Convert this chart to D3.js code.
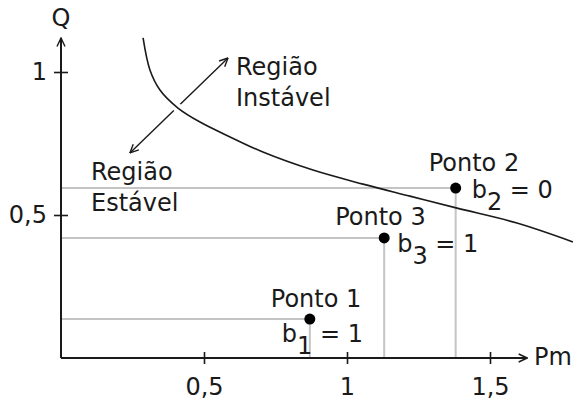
<!DOCTYPE html>
<html>
<head>
<meta charset="utf-8">
<script src="https://cdn.jsdelivr.net/npm/d3@7"></script>
<style>
  html, body { margin: 0; padding: 0; background: #fff; }
  svg { display: block; }
  text { font-family: "DejaVu Sans", sans-serif; fill: #1a1a1a; }
</style>
</head>
<body>
<svg id="chart" width="576" height="403"></svg>
<script>
// Stability limit curve Q(Pm)
const curvePm = [0.287, 0.311, 0.346, 0.409, 0.486, 0.591, 0.706, 0.881, 1.056, 1.220, 1.385, 1.594, 1.790];
const curveQ  = [1.119, 1.007, 0.937, 0.874, 0.825, 0.773, 0.720, 0.657, 0.608, 0.566, 0.524, 0.472, 0.406];

// Operating points
const pointNames = ["Ponto 1", "Ponto 2", "Ponto 3"];
const pointSub   = ["1", "2", "3"];
const pointPm    = [0.87, 1.38, 1.13];
const pointQ     = [0.136, 0.594, 0.42];
const pointB     = [1, 0, 1];

// Axis ticks
const xTicks = [0.5, 1, 1.5];
const yTicks = [0.5, 1];

const svg = d3.select("#chart");
const x = d3.scaleLinear().domain([0, 1.5]).range([61, 490]);
const y = d3.scaleLinear().domain([0, 1]).range([358, 72]);
const fmt = d3.formatLocale({decimal: ",", thousands: ".", grouping: [3], currency: ["", ""]}).format("~g");

const FS = 24;
const ink = "#1a1a1a";

// arrowhead marker (open chevron)
const defs = svg.append("defs");
defs.append("marker").attr("id", "arr").attr("viewBox", "0 0 10 10")
  .attr("refX", 9.5).attr("refY", 5).attr("markerWidth", 10).attr("markerHeight", 10)
  .attr("markerUnits", "userSpaceOnUse").attr("orient", "auto-start-reverse")
  .append("path").attr("d", "M1,1 L9.5,5 L1,9").attr("fill", "none")
  .attr("stroke", ink).attr("stroke-width", 1.4);

// Region arrow (drawn first; the curve's halo breaks it)
const arrowFrom = [0.241, 0.717], arrowTo = [0.584, 1.049];
svg.append("line")
  .attr("x1", x(arrowFrom[0])).attr("y1", y(arrowFrom[1]))
  .attr("x2", x(arrowTo[0])).attr("y2", y(arrowTo[1]))
  .attr("stroke", ink).attr("stroke-width", 1.4)
  .attr("marker-start", "url(#arr)").attr("marker-end", "url(#arr)");

const line = d3.line().x(d => x(d[0])).y(d => y(d[1])).curve(d3.curveCatmullRom.alpha(0.5));
const curveData = curvePm.map((p, i) => [p, curveQ[i]]);

svg.append("path").datum(curveData).attr("d", line)
  .attr("fill", "none").attr("stroke", "#fff").attr("stroke-width", 9);

// Projection lines
const pts = pointPm.map((p, i) => ({pm: p, q: pointQ[i], name: pointNames[i], sub: pointSub[i], b: pointB[i]}));
const grid = svg.append("g").attr("stroke", "#c4c4c4").attr("stroke-width", 2);
pts.forEach(d => {
  grid.append("line").attr("x1", x(0)).attr("x2", x(d.pm)).attr("y1", y(d.q)).attr("y2", y(d.q));
  grid.append("line").attr("x1", x(d.pm)).attr("x2", x(d.pm)).attr("y1", y(d.q)).attr("y2", y(0));
});

// Curve
svg.append("path").datum(curveData).attr("d", line)
  .attr("fill", "none").attr("stroke", ink).attr("stroke-width", 1.6);

// Axes
const xEnd = 1.63, yEnd = 1.119;
svg.append("line").attr("x1", x(0)).attr("x2", x(xEnd)).attr("y1", y(0)).attr("y2", y(0))
  .attr("stroke", ink).attr("stroke-width", 2).attr("marker-end", "url(#arr)");
svg.append("line").attr("x1", x(0)).attr("x2", x(0)).attr("y1", y(0)).attr("y2", y(yEnd))
  .attr("stroke", ink).attr("stroke-width", 2).attr("marker-end", "url(#arr)");

const gx = svg.append("g").attr("transform", `translate(0,${y(0)})`)
  .call(d3.axisBottom(x).tickValues(xTicks).tickSize(6).tickPadding(14).tickFormat(fmt));
gx.select(".domain").remove();
gx.selectAll(".tick line").attr("y1", -6).attr("y2", 6).attr("stroke", ink).attr("stroke-width", 1.6);
gx.selectAll(".tick text").attr("font-size", FS).attr("font-family", "DejaVu Sans").attr("fill", ink);

const gy = svg.append("g").attr("transform", `translate(${x(0)},0)`)
  .call(d3.axisLeft(y).tickValues(yTicks).tickSize(7).tickPadding(7).tickFormat(fmt));
gy.select(".domain").remove();
gy.selectAll(".tick line").attr("x1", -7).attr("x2", 7).attr("stroke", ink).attr("stroke-width", 1.6);
gy.selectAll(".tick text").attr("font-size", FS).attr("font-family", "DejaVu Sans").attr("fill", ink);

// Axis titles
svg.append("text").attr("x", x(0)).attr("y", 26).attr("text-anchor", "middle").attr("font-size", FS).text("Q");
svg.append("text").attr("x", 534).attr("y", 365).attr("font-size", FS).text("Pm");

// Region labels
function twoLines(px, py, a, b) {
  const t = svg.append("text").attr("font-size", FS);
  t.append("tspan").attr("x", px).attr("y", py).text(a);
  t.append("tspan").attr("x", px).attr("y", py + 31).text(b);
}
twoLines(236, 75, "Região", "Instável");
twoLines(91, 180, "Região", "Estável");

// Points and their labels
const labelOffset = [
  {tx: -39, ty: -12, bx: -28, by: 23},
  {tx: -27, ty: -17, bx: 16, by: 10},
  {tx: -49, ty: -13, bx: 13, by: 14}
];
pts.forEach((d, i) => {
  const cx = x(d.pm), cy = y(d.q), o = labelOffset[i];
  svg.append("circle").attr("cx", cx).attr("cy", cy).attr("r", 5.5).attr("fill", "#000");
  svg.append("text").attr("x", cx + o.tx).attr("y", cy + o.ty).attr("font-size", FS).text(d.name);
  const t = svg.append("text").attr("x", cx + o.bx).attr("y", cy + o.by).attr("font-size", FS);
  t.append("tspan").text("b");
  t.append("tspan").attr("dy", 12).text(d.sub);
  t.append("tspan").attr("dy", -12).text(" = " + d.b);
});
</script>
</body>
</html>
